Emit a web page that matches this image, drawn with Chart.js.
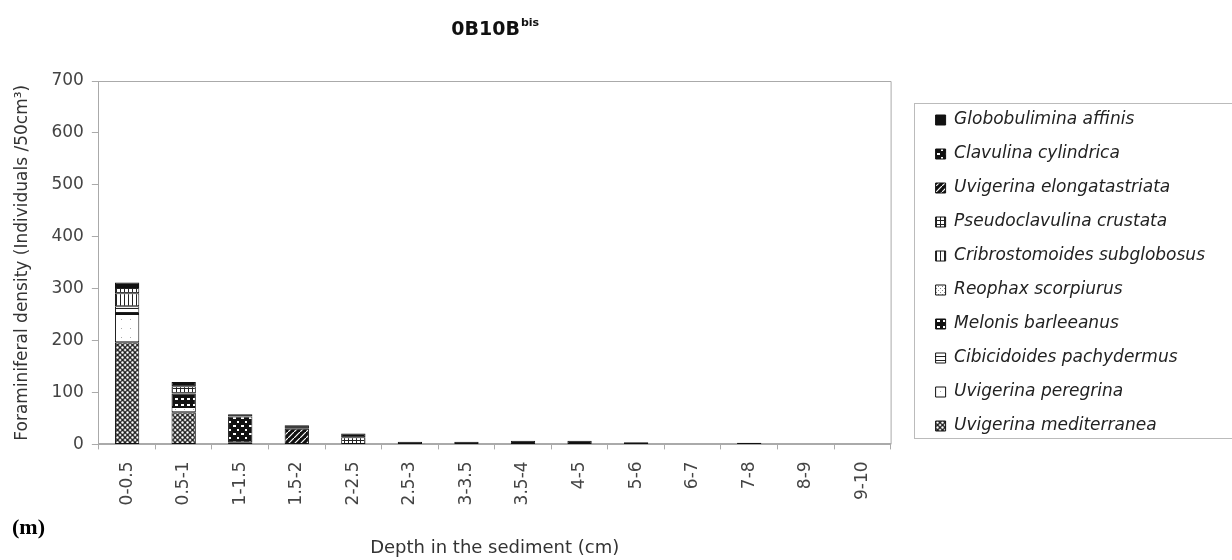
<!DOCTYPE html>
<html lang="en">
<head>
<meta charset="UTF-8">
<title>0B10B bis</title>
<script src="https://cdn.jsdelivr.net/npm/chart.js"></script>
<style>
  html, body { margin: 0; padding: 0; background: #fff; }
</style>
</head>
<body>
<canvas id="chart" width="1232" height="560"></canvas>
<script>
// depth intervals (cm)
const depths = ['0-0.5', '0.5-1', '1-1.5', '1.5-2', '2-2.5', '2.5-3', '3-3.5', '3.5-4', '4-5', '5-6', '6-7', '7-8', '8-9', '9-10'];

// individuals / 50 cm3, stacked bottom -> top
const uMediterranea    = [197, 62, 4, 0, 0, 0, 0, 0, 0, 0, 0, 0, 0, 0];
const uPeregrina       = [54, 10, 0, 0, 0, 0, 0, 0, 0, 0, 0, 0, 0, 0];
const cPachydermus     = [15, 0, 0, 0, 0, 0, 0, 0, 0, 0, 0, 0, 0, 0];
const mBarleeanus      = [0, 26, 0, 0, 0, 0, 0, 0, 0, 0, 0, 0, 0, 0];
const rScorpiurus      = [0, 0, 0, 0, 0, 0, 0, 0, 0, 4, 0, 3, 0, 0];
const cSubglobosus     = [25, 0, 0, 0, 0, 0, 0, 0, 0, 0, 0, 0, 0, 0];
const pCrustata        = [12, 14, 0, 0, 14, 0, 0, 0, 0, 0, 0, 0, 0, 0];
const uElongatastriata = [0, 0, 0, 30, 0, 0, 0, 0, 0, 0, 0, 0, 0, 0];
const cCylindrica      = [4, 0, 50, 0, 0, 0, 0, 0, 0, 0, 0, 0, 0, 0];
const gAffinis         = [5, 8, 4, 7, 7, 5, 5, 7, 7, 0, 0, 0, 0, 0];

const yTicks = [0, 100, 200, 300, 400, 500, 600, 700];

const FONT = 'DejaVu Sans';

// small tiles used as bar fills
function makePattern(size, paint) {
  const c = document.createElement('canvas');
  c.width = c.height = size;
  const g = c.getContext('2d');
  paint(g, size);
  return g.createPattern(c, 'repeat');
}

const fillCobble = makePattern(5, (g, s) => {
  g.fillStyle = '#fff'; g.fillRect(0, 0, s, s);
  g.strokeStyle = '#222'; g.lineWidth = 1.3;
  g.beginPath(); g.arc(2.5, 2.5, 1.9, 0, Math.PI * 2); g.stroke();
});
const fillSpeck = makePattern(9, (g, s) => {
  g.fillStyle = '#fff'; g.fillRect(0, 0, s, s);
  g.fillStyle = '#aaa'; g.fillRect(4, 4, 1, 1);
});
const fillHLines = makePattern(4, (g, s) => {
  g.fillStyle = '#fff'; g.fillRect(0, 0, s, s);
  g.fillStyle = '#222'; g.fillRect(0, 0, s, 1);
});
const fillBlobs = makePattern(6, (g, s) => {
  g.fillStyle = '#111'; g.fillRect(0, 0, s, s);
  g.fillStyle = '#fff'; g.fillRect(1, 2, 3, 2);
});
const fillLight = makePattern(4, (g, s) => {
  g.fillStyle = '#fff'; g.fillRect(0, 0, s, s);
  g.fillStyle = '#888'; g.fillRect(0, 0, 1, 1); g.fillRect(2, 2, 1, 1);
});
const fillVLines = makePattern(4, (g, s) => {
  g.fillStyle = '#fff'; g.fillRect(0, 0, s, s);
  g.fillStyle = '#222'; g.fillRect(0, 0, 1, s);
});
const fillGrid = makePattern(4, (g, s) => {
  g.fillStyle = '#fff'; g.fillRect(0, 0, s, s);
  g.fillStyle = '#222'; g.fillRect(0, 0, 1, s); g.fillRect(0, 0, s, 1);
});
const fillDiag = makePattern(6, (g, s) => {
  g.fillStyle = '#111'; g.fillRect(0, 0, s, s);
  g.strokeStyle = '#fff'; g.lineWidth = 1.2;
  g.beginPath(); g.moveTo(0, s); g.lineTo(s, 0); g.stroke();
});
const fillChecker = makePattern(8, (g, s) => {
  g.fillStyle = '#111'; g.fillRect(0, 0, s, s);
  g.fillStyle = '#fff'; g.fillRect(1, 1, 3, 2); g.fillRect(5, 5, 2, 2);
});

const series = [
  ['Uvigerina mediterranea', uMediterranea, fillCobble],
  ['Uvigerina peregrina', uPeregrina, fillSpeck],
  ['Cibicidoides pachydermus', cPachydermus, fillHLines],
  ['Melonis barleeanus', mBarleeanus, fillBlobs],
  ['Reophax scorpiurus', rScorpiurus, fillLight],
  ['Cribrostomoides subglobosus', cSubglobosus, fillVLines],
  ['Pseudoclavulina crustata', pCrustata, fillGrid],
  ['Uvigerina elongatastriata', uElongatastriata, fillDiag],
  ['Clavulina cylindrica', cCylindrica, fillChecker],
  ['Globobulimina affinis', gAffinis, '#111']
];

// frame around the plot, titles and the boxed legend
const decorations = {
  id: 'decorations',
  beforeDatasetsDraw(chart) {
    const { ctx, chartArea: a } = chart;
    ctx.save();
    ctx.strokeStyle = '#aaa';
    ctx.lineWidth = 1;
    ctx.beginPath();
    ctx.moveTo(a.left, a.top + 0.5);
    ctx.lineTo(a.right + 0.5, a.top + 0.5);
    ctx.lineTo(a.right + 0.5, a.bottom);
    ctx.stroke();
    ctx.restore();
  },
  afterDraw(chart) {
    const { ctx, chartArea: a } = chart;
    ctx.save();
    // chart title with superscript
    const main = '0B10B', sup = 'bis';
    ctx.fillStyle = '#111';
    ctx.textBaseline = 'alphabetic';
    ctx.font = `bold 19px "${FONT}"`;
    const wMain = ctx.measureText(main).width;
    ctx.font = `bold 11px "${FONT}"`;
    const wSup = ctx.measureText(sup).width;
    const x0 = (a.left + a.right) / 2 - (wMain + wSup) / 2;
    ctx.font = `bold 19px "${FONT}"`;
    ctx.textAlign = 'left';
    ctx.fillText(main, x0, 35);
    ctx.font = `bold 11px "${FONT}"`;
    ctx.fillText(sup, x0 + wMain + 1, 26);

    // panel letter
    ctx.font = 'bold 22px "Liberation Serif"';
    ctx.fillStyle = '#000';
    ctx.fillText('(m)', 12, 534);

    // legend frame
    const hb = chart.legend.legendHitBoxes;
    if (hb && hb.length) {
      const top = Math.min(...hb.map(h => h.top)) - 8.5;
      const bottom = Math.max(...hb.map(h => h.top + h.height)) + 3.5;
      const left = Math.min(...hb.map(h => h.left)) - 22;
      ctx.strokeStyle = '#bbb';
      ctx.lineWidth = 1;
      ctx.strokeRect(Math.round(left) + 0.5, Math.round(top) + 0.5, chart.width + 10 - left, bottom - top);
    }
    ctx.restore();
  }
};

new Chart(document.getElementById('chart'), {
  type: 'bar',
  data: {
    labels: depths,
    datasets: series.map(([name, values, fill]) => ({
      label: name,
      data: values.map(v => v || null),
      backgroundColor: fill,
      borderColor: '#111',
      borderWidth: 1,
      borderSkipped: false,
      barPercentage: 0.43,
      categoryPercentage: 1
    }))
  },
  options: {
    responsive: false,
    animation: false,
    devicePixelRatio: 1,
    layout: { padding: { top: 81, right: 17, bottom: 1, left: 0 } },
    plugins: {
      title: { display: false },
      tooltip: { enabled: false },
      legend: {
        position: 'right',
        align: 'start',
        reverse: true,
        maxWidth: 340,
        title: { display: true, text: '', font: { size: 10 }, padding: { top: 0, bottom: 1.5 } },
        labels: {
          boxWidth: 10,
          boxHeight: 10,
          padding: 17,
          color: '#222',
          font: { family: FONT, size: 17, style: 'italic' }
        }
      }
    },
    scales: {
      x: {
        stacked: true,
        grid: { display: true, drawOnChartArea: false, color: '#aaa', tickLength: 5 },
        border: { display: true, color: '#aaa', width: 2 },
        ticks: {
          minRotation: 90, maxRotation: 90, padding: 12,
          color: '#444', font: { family: FONT, size: 17 }
        },
        title: {
          display: true, text: 'Depth in the sediment (cm)', color: '#333',
          font: { family: FONT, size: 18 }, padding: { top: 20, bottom: 0 }
        }
      },
      y: {
        stacked: true,
        min: 0, max: 700,
        afterBuildTicks: s => { s.ticks = yTicks.map(v => ({ value: v })); },
        grid: { display: true, drawOnChartArea: false, color: '#aaa', tickLength: 7 },
        border: { display: true, color: '#aaa', width: 1 },
        ticks: { padding: 8, color: '#444', font: { family: FONT, size: 17 } },
        title: {
          display: true, text: 'Foraminiferal density (Individuals /50cm³)', color: '#333',
          font: { family: FONT, size: 17 }, padding: { top: 12, bottom: 11 }
        }
      },
      gap: {
        type: 'linear', position: 'right', display: true,
        grid: { display: false }, border: { display: false }, ticks: { display: false },
        afterFit: s => { s.width = 28; }
      }
    }
  },
  plugins: [decorations]
});
</script>
</body>
</html>
